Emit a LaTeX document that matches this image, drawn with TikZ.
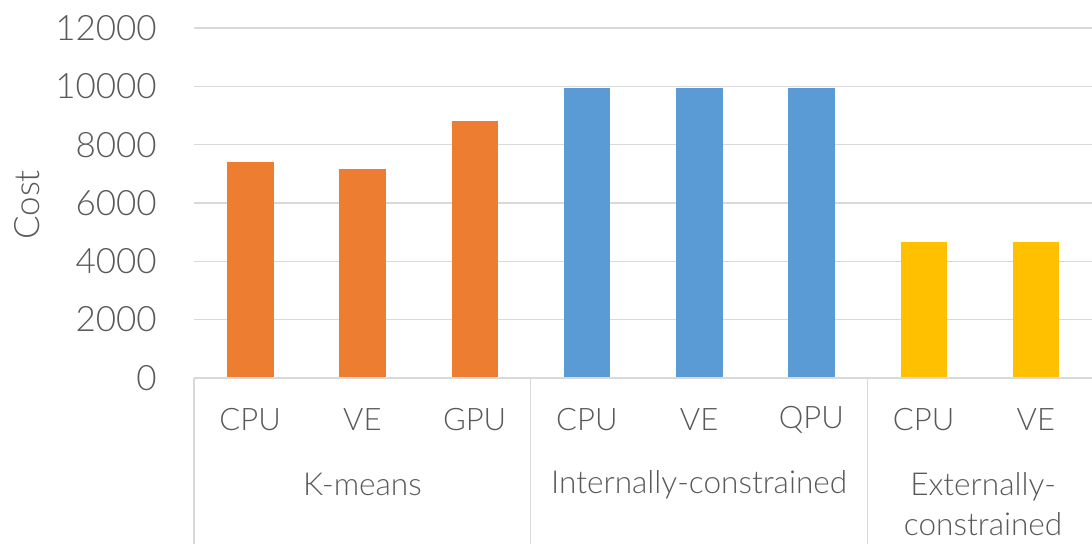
\documentclass[tikz,border=0pt]{standalone}
\usepackage{fontspec}
\setmainfont{Lato}[UprightFont=* Light]
\usepackage{tikz}
\usepackage{xcolor}
\usetikzlibrary{positioning}
\definecolor{cOrange}{RGB}{237,125,49}
\definecolor{cBlue}{RGB}{91,155,213}
\definecolor{cGold}{RGB}{255,192,0}
\definecolor{cGrid}{RGB}{217,217,217}
\definecolor{cText}{RGB}{89,89,89}
\tikzset{
	gridline/.style={draw=cGrid, line width=1.3pt},
	bar/.style     ={draw=none},
	ticklbl/.style ={anchor=east, text=cText, inner sep=0pt, font=\fontsize{35}{40}\selectfont},
	catlbl/.style  ={text=cText, inner sep=0pt, font=\fontsize{31}{40}\selectfont},
	grplbl/.style  ={text=cText, inner sep=0pt, align=center, font=\fontsize{31.6}{40}\selectfont},
}

\begin{document}
\begin{tikzpicture}[x=112.25pt, y=0.0291667pt]
	\useasboundingbox (-1.7283,-5691.4) rectangle (8,12960);
	% value grid and tick labels
	\foreach \v in {2000,4000,...,12000}{
		\draw[gridline] (0,\v) -- (8,\v);
	}
	\foreach \v in {0,2000,...,12000}{
		\node[ticklbl] (y\v) at (-0.33,\v) {\v};
	}
	\node[ticklbl, anchor=center, rotate=90] (ylabel) at (-1.485,5931) {Cost};
	% bars
	\foreach \i/\v/\c in {1/7410/cOrange, 2/7170/cOrange, 3/8820/cOrange,
		4/9950/cBlue, 5/9950/cBlue, 6/9950/cBlue, 7/4660/cGold, 8/4660/cGold}{
		\fill[bar, \c] ({\i-0.705},-20) rectangle ({\i-0.29},\v);
	}
	% category axis
	\draw[gridline] (0,0) -- (8,0);
	\foreach \x in {0,3,6}{
		\draw[gridline] (\x,0) -- (\x,-5800);
	}
	\foreach \i/\t in {1/CPU, 2/VE, 3/GPU, 4/CPU, 5/VE, 6/QPU, 7/CPU, 8/VE}{
		\node[catlbl] (c\i) at ({\i-0.5},-1440) {\t};
	}
	\node[grplbl] (gKmeans) at (1.5,-3660) {K-means};
	\node[grplbl] (gInternal) at (4.5,-3660) {Internally-constrained};
	\node[grplbl] (gExternal) at (7.03,-4330) {Externally-\\constrained};
\end{tikzpicture}
\end{document}
